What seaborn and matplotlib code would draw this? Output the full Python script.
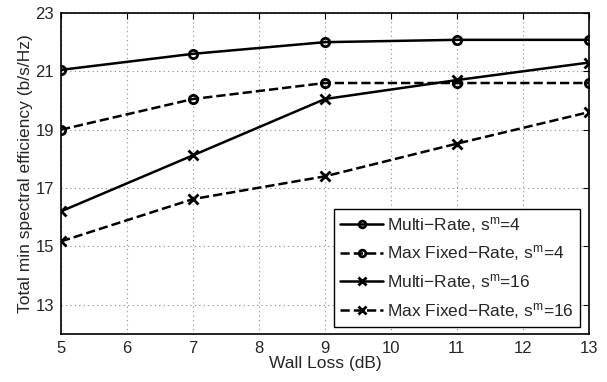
import numpy as np
import pandas as pd
import matplotlib
matplotlib.use('Agg')
import matplotlib.pyplot as plt
import seaborn as sns

# Data
wall_loss = [5, 7, 9, 11, 13]
multi_rate_s4 = [21.05, 21.6, 22.0, 22.08, 22.08]
fixed_rate_s4 = [19.0, 20.05, 20.6, 20.6, 20.6]
multi_rate_s16 = [16.2, 18.12, 20.05, 20.7, 21.3]
fixed_rate_s16 = [15.17, 16.62, 17.4, 18.52, 19.6]

labels = ['Multi\u2212Rate, s$^{m}$=4', 'Max Fixed\u2212Rate, s$^{m}$=4',
          'Multi\u2212Rate, s$^{m}$=16', 'Max Fixed\u2212Rate, s$^{m}$=16']
series = [multi_rate_s4, fixed_rate_s4, multi_rate_s16, fixed_rate_s16]
styles = [('-', 'o', 6), ('--', 'o', 6), ('-', 'x', 7), ('--', 'x', 7)]

sns.set_style('white')
plt.rcParams['font.family'] = ['Liberation Sans', 'DejaVu Sans']
plt.rcParams['mathtext.default'] = 'regular'

fig = plt.figure(figsize=(6.07, 3.82), dpi=100)
ax = fig.add_axes([0.1005, 0.126, 0.8695, 0.840])

for lab, vals, (ls, mk, ms) in zip(labels, series, styles):
    df = pd.DataFrame({'x': wall_loss, 'y': vals})
    sns.lineplot(data=df, x='x', y='y', ax=ax, color='black', linestyle=ls,
                 linewidth=1.8, marker=mk, markersize=ms, markerfacecolor='none',
                 markeredgecolor='black', markeredgewidth=2, label=lab,
                 dashes=False if ls == '-' else (3.5, 2.4))

ax.set_xlim(5, 13)
ax.set_ylim(12, 23)
ax.set_xticks(range(5, 14))
ax.set_yticks([13, 15, 17, 19, 21, 23])
ax.tick_params(direction='in', labelsize=12, length=4, color='black',
               top=True, right=True, pad=5)
ax.grid(True, linestyle=(0, (1, 3)), color='#888888', linewidth=0.8)
for sp in ax.spines.values():
    sp.set_color('black')
    sp.set_linewidth(1.2)
ax.set_xlabel('Wall Loss (dB)', fontsize=12.5, labelpad=0)
ax.set_ylabel('Total min spectral efficiency (b/s/Hz)', fontsize=12.5, labelpad=2)

# legend box: right edge ~9px, bottom ~7px inside the axes
leg = ax.legend(loc='lower right', bbox_to_anchor=(1 - 9 / 528, 7 / 321),
                fontsize=12.5, frameon=True, fancybox=False,
                edgecolor='black', framealpha=1, borderpad=0.35,
                handlelength=2.5, handletextpad=0.2, labelspacing=0.5,
                borderaxespad=0, markerscale=0.8)
leg.get_frame().set_linewidth(1.0)

fig.savefig('out.png', dpi=100)
